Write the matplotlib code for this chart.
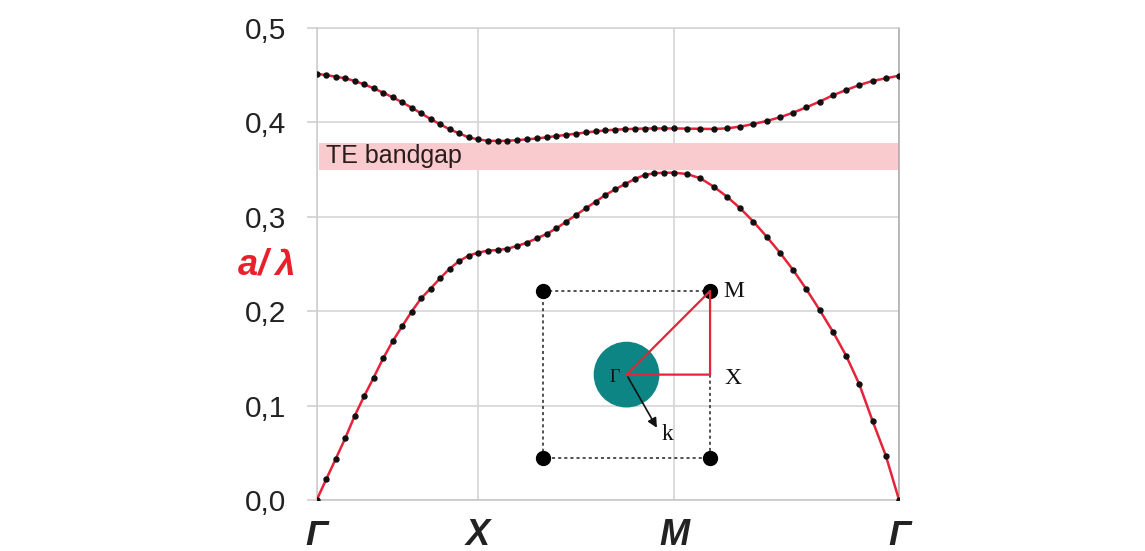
import numpy as np
import matplotlib.pyplot as plt
from matplotlib.patches import Circle

# high-symmetry path Γ -> X -> M -> Γ, tick positions along the k axis
path_labels = ['Γ', 'X', 'M', 'Γ']
path_ticks = [0.0, 1.0, 2.215, 3.61]
y_ticks = [0.0, 0.1, 0.2, 0.3, 0.4, 0.5]
y_ticklabels = ['0,0', '0,1', '0,2', '0,3', '0,4', '0,5']

# first TE band (a/lambda), per segment; X and M are not repeated
band1_gx = [0.0, 0.0219, 0.0434, 0.0653, 0.089, 0.110, 0.1296, 0.150, 0.168,
            0.184, 0.1995, 0.2136, 0.224, 0.2348, 0.245, 0.253, 0.2588, 0.262]
band1_xm = [0.2641, 0.2648, 0.2662, 0.2691, 0.2726, 0.2772, 0.2818, 0.2878,
            0.2948, 0.3019, 0.309, 0.316, 0.3231, 0.3291, 0.3347, 0.340,
            0.3443, 0.3461, 0.3467, 0.3467]
band1_mg = [0.3453, 0.3407, 0.3319, 0.3213, 0.309, 0.2948, 0.2789, 0.262,
            0.2436, 0.2232, 0.2013, 0.1783, 0.1529, 0.1225, 0.0837, 0.0469, 0.0]

# second TE band
band2_gx = [0.4513, 0.4502, 0.4484, 0.4467, 0.4439, 0.4403, 0.4361, 0.4315,
            0.4266, 0.4213, 0.4156, 0.4096, 0.4036, 0.398, 0.3927, 0.3884,
            0.3842, 0.382]
band2_xm = [0.3805, 0.3803, 0.3805, 0.3812, 0.382, 0.383, 0.3842, 0.3855,
            0.3868, 0.388, 0.3893, 0.3905, 0.3915, 0.3923, 0.3928, 0.3932,
            0.3935, 0.3936, 0.3936, 0.3936]
band2_mg = [0.3934, 0.3932, 0.3930, 0.3937, 0.3955, 0.3983, 0.4015, 0.4054,
            0.4103, 0.416, 0.422, 0.4287, 0.4343, 0.4396, 0.4439, 0.4467, 0.4495]

gap_bottom, gap_top = 0.350, 0.378

# k samples: equal steps inside each segment
k_gx = np.linspace(path_ticks[0], path_ticks[1], len(band1_gx))
k_xm = np.linspace(path_ticks[1], path_ticks[2], len(band1_xm) + 1)[1:]
k_mg = np.linspace(path_ticks[2], path_ticks[3], len(band1_mg) + 1)[1:]
k = np.concatenate([k_gx, k_xm, k_mg])
band1 = np.array(band1_gx + band1_xm + band1_mg)
band2 = np.array(band2_gx + band2_xm + band2_mg)

plt.rcParams['font.family'] = ['Liberation Sans', 'DejaVu Sans']

fig = plt.figure(figsize=(11.45, 5.51), dpi=100)
ax = fig.add_axes([0.2766, 0.0926, 0.5086, 0.8566])

line_red = '#e3243b'
for band in (band1, band2):
    ax.plot(k, band, color=line_red, lw=1.8, zorder=3)
    ax.plot(k, band, 'o', color='#111111', ms=3.6, zorder=4)

ax.axhspan(gap_bottom, gap_top, xmin=0.004, color='#f9cbcf', lw=0, zorder=1)
ax.text(0.016, (gap_bottom + gap_top) / 2, 'TE bandgap', transform=ax.get_yaxis_transform(),
        fontsize=18, color='#2a1c1c', va='center', ha='left', zorder=2)

ax.set_xlim(path_ticks[0], path_ticks[-1])
ax.set_ylim(0, 0.5)
ax.set_xticks(path_ticks)
ax.set_xticklabels(path_labels, fontsize=26, fontweight='bold', fontstyle='italic', color='#222222')
ax.set_yticks(y_ticks)
ax.set_yticklabels(y_ticklabels, fontsize=21.5, color='#222222')
ax.tick_params(axis='x', length=0, pad=13)
ax.tick_params(axis='y', length=7, width=1.1, color='#cccccc', pad=15)

ax.grid(True, color='#d2d2d2', lw=1.1)
ax.set_axisbelow(True)
for side, col in [('left', '#cccccc'), ('top', '#d2d2d2'), ('bottom', '#c4c4c4'), ('right', '#a8a8a8')]:
    ax.spines[side].set_color(col)
    ax.spines[side].set_linewidth(1.1)

ax.text(-0.036, 0.249, 'a/\u2009λ', transform=ax.get_yaxis_transform(), fontsize=26,
        fontweight='bold', fontstyle='italic', color='#e8202c', ha='right', va='center')

# Brillouin zone sketch: square zone, Γ at the centre, corner points
ins = fig.add_axes([0.456, 0.1016, 0.205, 0.412], zorder=5)
ins.set_facecolor('white')
ins.set_xlim(-1.25, 1.56)
ins.set_ylim(-1.44, 1.275)
ins.axis('off')
ins.patch.set_visible(True)

corner_x = [-1, 1, 1, -1, -1]
corner_y = [1, 1, -1, -1, 1]
ins.plot(corner_x, corner_y, color='#222222', lw=1.1, ls=(0, (2.0, 2.0)))
ins.plot(corner_x[:4], corner_y[:4], 'o', color='black', ms=10)
ins.add_patch(Circle((0, 0), 0.385, color='#0d8585', zorder=2))

# irreducible wedge Γ-X-M
wedge_x = [0, 1, 1, 0]
wedge_y = [0, 1, 0, 0]
ins.plot(wedge_x, wedge_y, color='#e3243b', lw=1.6, zorder=3)
ins.annotate('', xy=(0.38, -0.665), xytext=(0, 0),
             arrowprops=dict(arrowstyle='-|>', color='#111111', lw=1.2, mutation_scale=14), zorder=4)

serif = ['Liberation Serif', 'DejaVu Serif']
ins.text(1.28, 1.0, 'M', family=serif, fontsize=17, ha='center', va='center', color='#111111')
ins.text(1.28, -0.05, 'X', family=serif, fontsize=17, ha='center', va='center', color='#111111')
ins.text(-0.14, -0.03, 'Γ', family=serif, fontsize=13, ha='center', va='center', color='#111111', zorder=5)
ins.text(0.49, -0.72, 'k', family=serif, fontsize=17, ha='center', va='center', color='#111111')

fig.savefig('out.png', dpi=100)
